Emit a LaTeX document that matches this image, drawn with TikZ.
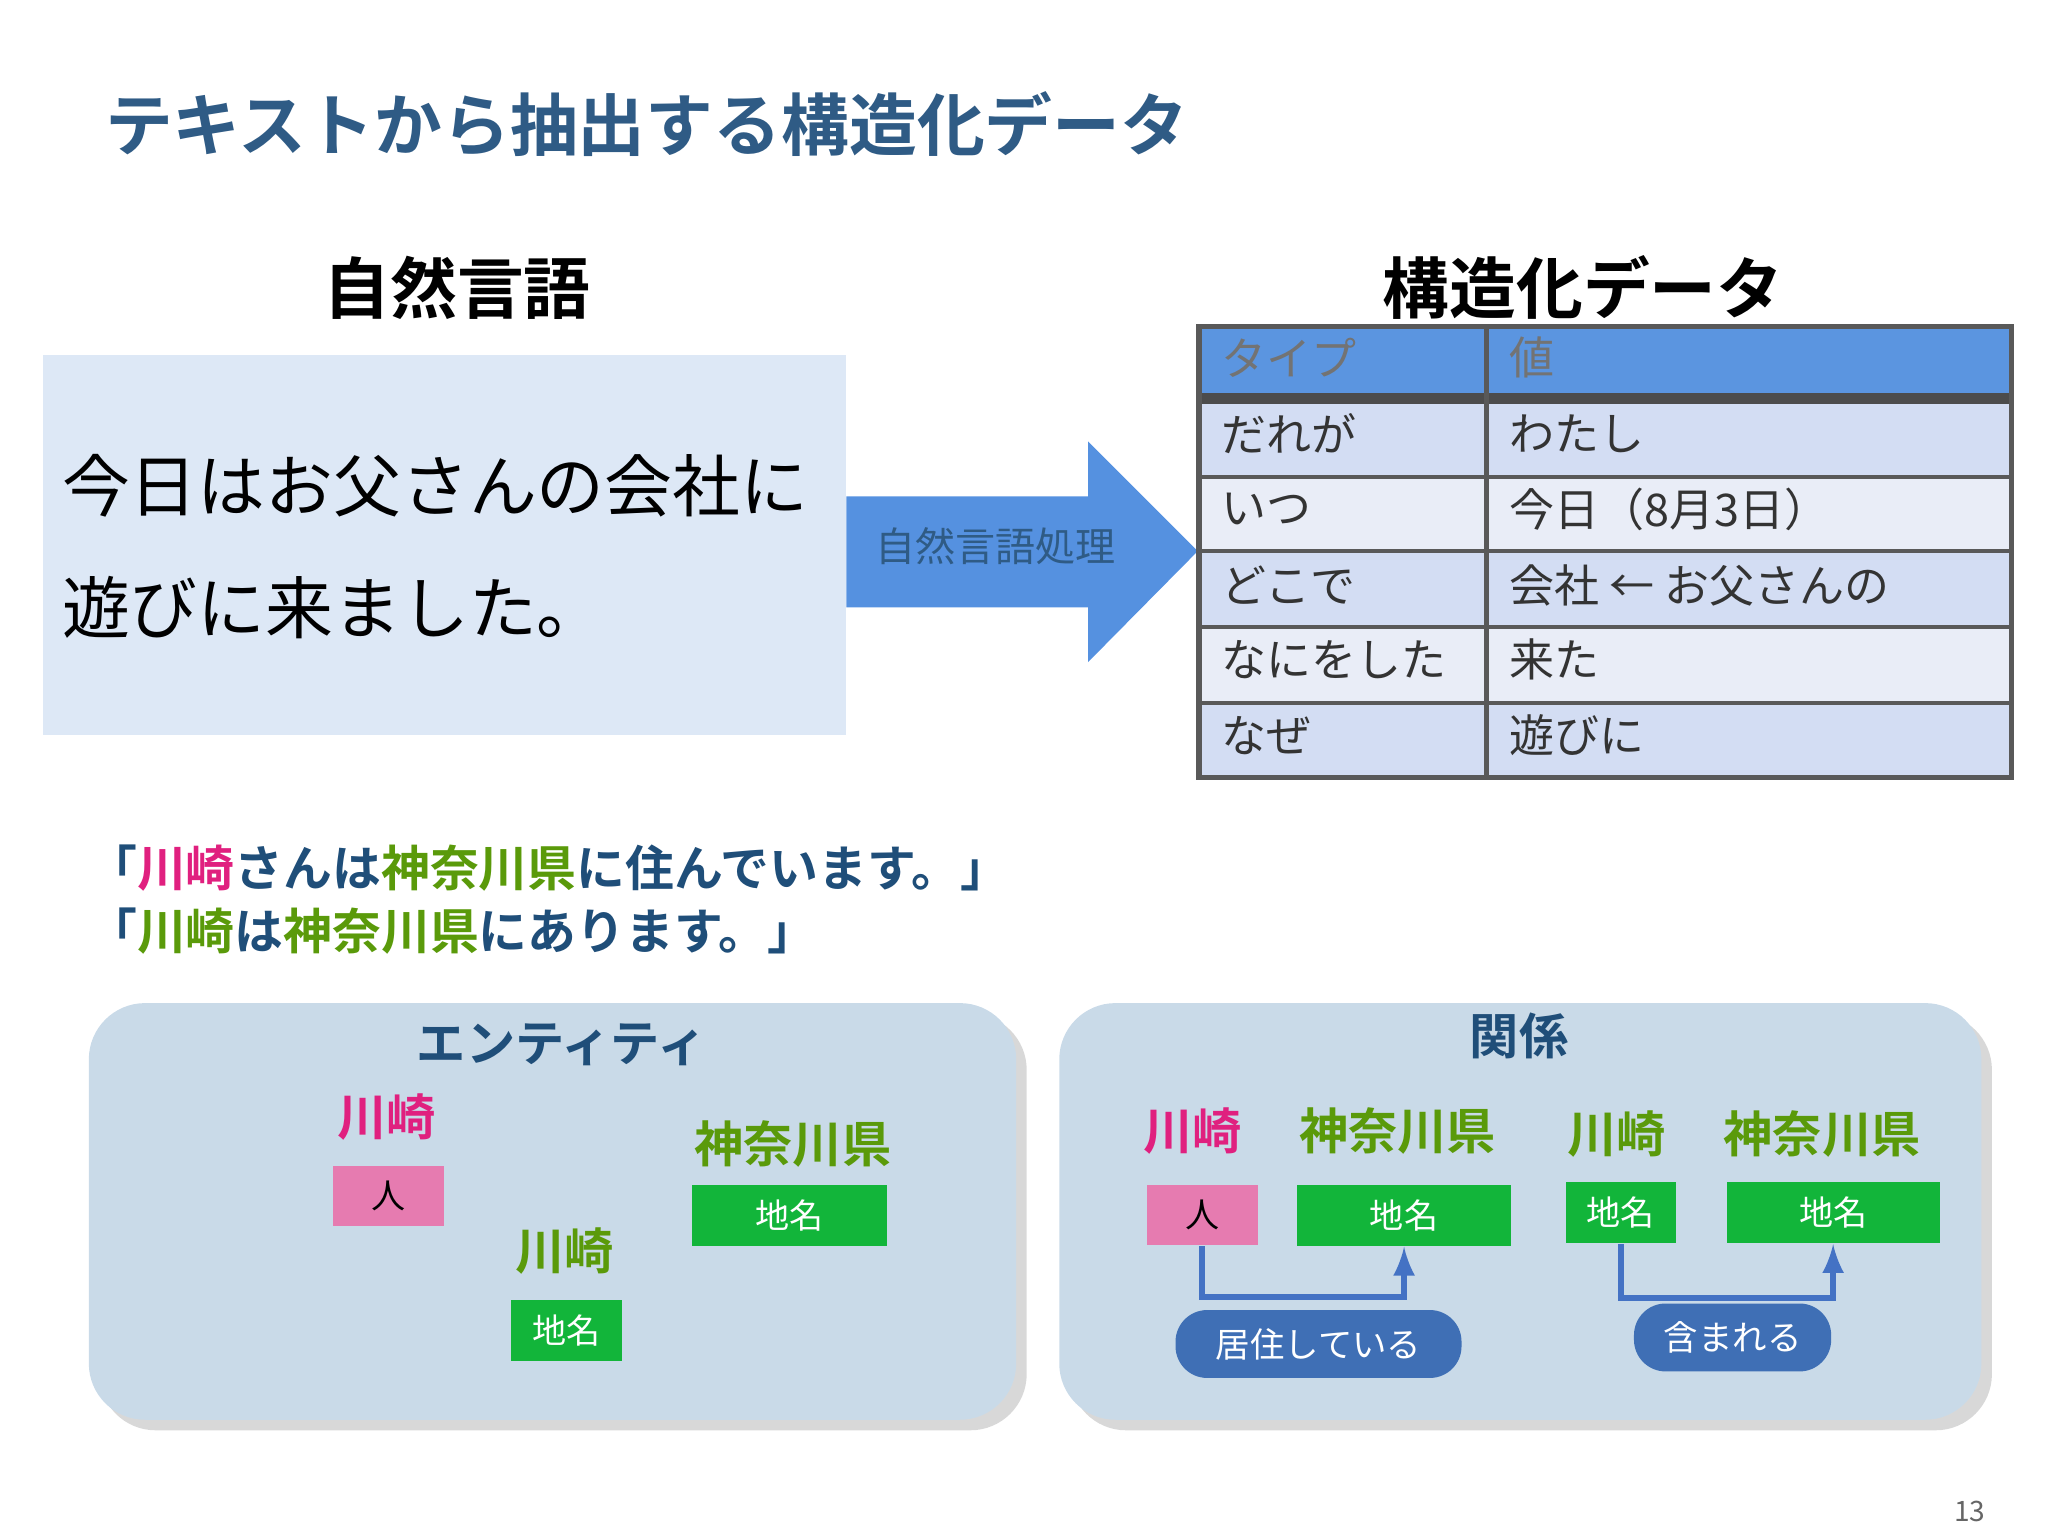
\documentclass[tikz,border=0pt]{standalone}
\usepackage{fontspec}
\setmainfont{Noto Sans CJK JP}
\newfontfamily\jb{Noto Sans CJK JP Bold}
\usetikzlibrary{shadows}
\definecolor{navy}{HTML}{1F4E79}
\definecolor{ttl}{HTML}{2F5B85}
\definecolor{pk}{HTML}{E0207F}
\definecolor{gr}{HTML}{5A9A0A}
\definecolor{pkbox}{HTML}{E67BB0}
\definecolor{grbox}{HTML}{12B53A}
\definecolor{lb}{HTML}{DDE8F6}
\definecolor{arr}{HTML}{5591E0}
\definecolor{hd}{HTML}{5B95E0}
\definecolor{rowa}{HTML}{D3DDF3}
\definecolor{rowb}{HTML}{E9EDF7}
\definecolor{panel}{HTML}{C9DAE8}
\definecolor{rel}{HTML}{4472C4}
\definecolor{pill}{HTML}{3F6FB5}
\newcommand{\fs}[1]{\fontsize{#1pt}{#1pt}\selectfont}
\begin{document}
\begin{tikzpicture}[x=0.013061cm,y=-0.013061cm,
 tbl/.style={anchor=west,text=black!80,font=\fs{12.8}},
 pbox/.style={fill=pkbox,minimum width=85*0.3716pt,minimum height=46*0.3716pt,font=\fs{9.7},text=black,inner sep=0},
 gbox/.style={fill=grbox,minimum height=47*0.3716pt,font=\fs{9.7},text=white,inner sep=0},
 pan/.style={fill=panel,rounded corners=16pt,drop shadow={shadow xshift=3pt,shadow yshift=-3pt,fill=gray!60}},
 lbl/.style={font=\jb\fs{14}},
 pil/.style={fill=pill,rounded corners=9pt,text=white,font=\fs{9.8},inner sep=0},
 rel/.style={draw=rel,line width=1.8pt,-latex}]
\useasboundingbox (0,0) rectangle (1568,1176);
\node[anchor=west,text=ttl,font=\jb\fs{19.3}] (title) at (71,95) {テキストから抽出する構造化データ};
\node[font=\jb\fs{19}] (nl) at (350,220) {自然言語};
\fill[lb] (33,272) rectangle (648,563);
\node[anchor=west,font=\fs{19.3}] (s1) at (38,372) {今日はお父さんの会社に};
\node[anchor=west,font=\fs{19.3}] (s2) at (38,465) {遊びに来ました。};
\fill[arr] (648,380) -- (833,380) -- (833,338) -- (917,422) -- (833,507) -- (833,465) -- (648,465) -- cycle;
\node[text=ttl,font=\fs{11.4}] (proc) at (762,418) {自然言語処理};
\node[font=\jb\fs{19}] (sd) at (1212,220) {構造化データ};
% table
\fill[hd] (918,250) rectangle (1540,305);
\fill[rowa] (918,305) rectangle (1540,365);
\fill[rowb] (918,365) rectangle (1540,422);
\fill[rowa] (918,422) rectangle (1540,480);
\fill[rowb] (918,480) rectangle (1540,538);
\fill[rowa] (918,538) rectangle (1540,595);
\foreach \y in {365,422,480,538} \draw[black!65,line width=1.2pt] (918,\y) -- (1540,\y);
\draw[black!70,line width=3pt] (918,305) -- (1540,305);
\draw[black!65,line width=1.5pt] (918,250) rectangle (1540,595) (1138,250) -- (1138,595);
\node[tbl,text=black!55] (h1) at (926,274) {タイプ};
\node[tbl,text=black!55] (h2) at (1146,274) {値};
\node[tbl] (a1) at (926,332) {だれが}; \node[tbl] (b1) at (1146,332) {わたし};
\node[tbl] (a2) at (926,390) {いつ}; \node[tbl] (b2) at (1146,390) {今日（8月3日）};
\node[tbl] (a3) at (926,448) {どこで}; \node[tbl] (b3) at (1146,448) {会社 ← お父さんの};
\node[tbl] (a4) at (926,505) {なにをした}; \node[tbl] (b4) at (1146,505) {来た};
\node[tbl] (a5) at (926,563) {なぜ}; \node[tbl] (b5) at (1146,563) {遊びに};
% quotes
\node[anchor=west,font=\jb\fs{13.9},text=navy] (q1) at (58,665) {「\textcolor{pk}{川崎}さんは\textcolor{gr}{神奈川県}に住んでいます。」};
\node[anchor=west,font=\jb\fs{13.9},text=navy] (q2) at (58,713) {「\textcolor{gr}{川崎}は\textcolor{gr}{神奈川県}にあります。」};
% panels
\path[pan] (68,768) rectangle (778,1087);
\path[pan] (811,768) rectangle (1517,1087);
\node[lbl,text=navy] (ent) at (430,800) {エンティティ};
\node[lbl,text=pk] (e1) at (296,855) {川崎};
\node[pbox] (eb1) at (297.5,915.5) {人};
\node[lbl,text=gr] (e2) at (432,958) {川崎};
\node[gbox,minimum width=85*0.3716pt] (eb2) at (433.5,1018.5) {地名};
\node[lbl,text=gr] (e3) at (607,876) {神奈川県};
\node[gbox,minimum width=149*0.3716pt] (eb3) at (604.5,930.5) {地名};
\node[lbl,text=navy] (kan) at (1163,793) {関係};
\node[lbl,text=pk] (r1) at (913,866) {川崎};
\node[lbl,text=gr] (r2) at (1070,866) {神奈川県};
\node[lbl,text=gr] (r3) at (1238,868) {川崎};
\node[lbl,text=gr] (r4) at (1395,868) {神奈川県};
\node[pbox] (rb1) at (920.5,930.5) {人};
\node[gbox,minimum width=164*0.3716pt] (rb2) at (1075,930.5) {地名};
\node[gbox,minimum width=84*0.3716pt] (rb3) at (1241,928.5) {地名};
\node[gbox,minimum width=163*0.3716pt] (rb4) at (1403.5,928.5) {地名};
\draw[rel] (rb1.south) -- ++(0,39) -| (rb2.south);
\draw[rel] (rb3.south) -- ++(0,41) -| (rb4.south);
\node[pil,minimum width=219*0.3716pt,minimum height=52*0.3716pt] (p1) at (1009.5,1029) {居住している};
\node[pil,minimum width=151*0.3716pt,minimum height=52*0.3716pt] (p2) at (1326.5,1024) {含まれる};
\node[text=black!60,font=\fs{8}] (pg) at (1508,1157) {13};
\end{tikzpicture}
\end{document}
